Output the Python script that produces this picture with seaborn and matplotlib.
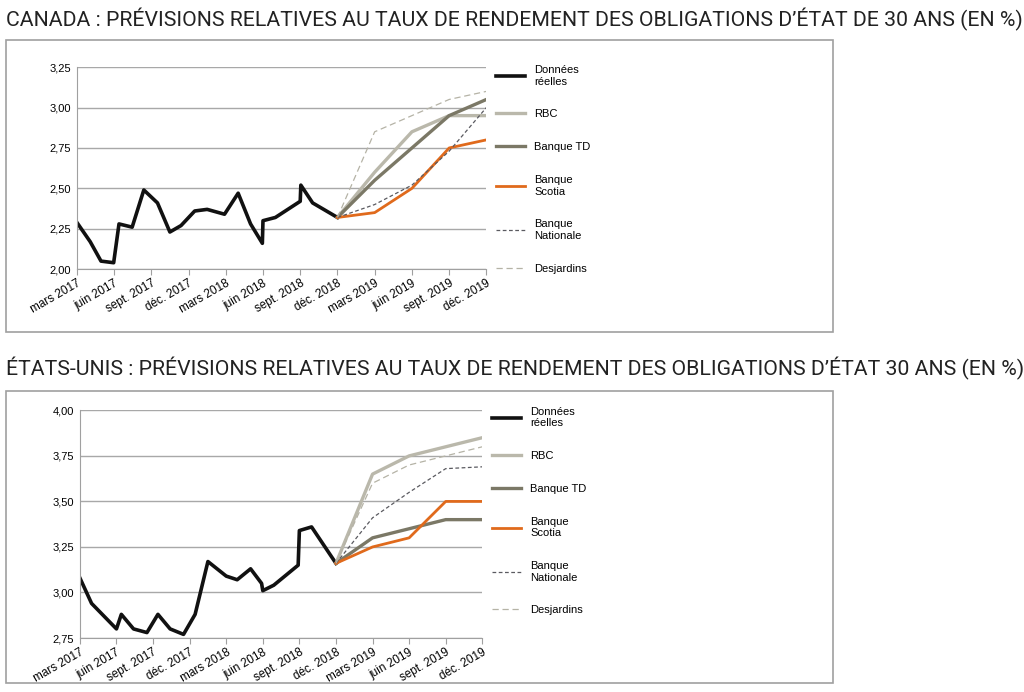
import matplotlib
matplotlib.use("Agg")
import matplotlib.pyplot as plt
import seaborn as sns
import pandas as pd
from matplotlib.patches import Rectangle

tick_pos = list(range(0, 34, 3))
tick_labels = ["mars 2017", "juin 2017", "sept. 2017", "déc. 2017", "mars 2018", "juin 2018",
               "sept. 2018", "déc. 2018", "mars 2019", "juin 2019", "sept. 2019", "déc. 2019"]
fc_months = [21, 24, 27, 30, 33]

ca_hist_m = [0, 1.08, 1.95, 2.97, 3.4, 4.46, 5.4, 6.5, 7.5, 8.4, 9.5, 10.5, 11.9, 13, 14, 14.95, 15, 16, 18, 18.05, 19, 21]
ca_hist_v = [2.29, 2.17, 2.05, 2.04, 2.28, 2.26, 2.49, 2.41, 2.23, 2.27, 2.36, 2.37, 2.34, 2.47, 2.28, 2.16, 2.30, 2.32, 2.42, 2.52, 2.41, 2.32]
ca_rbc = [2.32, 2.60, 2.85, 2.95, 2.95]
ca_td = [2.32, 2.55, 2.75, 2.95, 3.05]
ca_scotia = [2.32, 2.35, 2.50, 2.75, 2.80]
ca_nat = [2.32, 2.40, 2.52, 2.73, 3.00]
ca_desj = [2.32, 2.85, 2.95, 3.05, 3.10]

us_hist_m = [0, 0.96, 3.0, 3.4, 4.4, 5.5, 6.4, 7.4, 8.5, 9.45, 10.5, 12, 12.9, 14, 14.9, 15, 15.9, 17.9, 18, 19, 21]
us_hist_v = [3.08, 2.94, 2.80, 2.88, 2.80, 2.78, 2.88, 2.80, 2.77, 2.88, 3.17, 3.09, 3.07, 3.13, 3.05, 3.01, 3.04, 3.15, 3.34, 3.36, 3.16]
us_rbc = [3.16, 3.65, 3.75, 3.80, 3.85]
us_td = [3.16, 3.30, 3.35, 3.40, 3.40]
us_scotia = [3.16, 3.25, 3.30, 3.50, 3.50]
us_nat = [3.16, 3.41, 3.55, 3.68, 3.69]
us_desj = [3.16, 3.60, 3.70, 3.75, 3.80]

styles = [
    ("Données\nréelles", "#111111", 2.6, "-"),
    ("RBC", "#bab8ab", 2.4, "-"),
    ("Banque TD", "#7b7866", 2.4, "-"),
    ("Banque\nScotia", "#e06a1c", 2.0, "-"),
    ("Banque\nNationale", "#5a5a60", 0.9, (0, (3, 2))),
    ("Desjardins", "#b5b3a6", 0.9, (0, (5, 3))),
]

fig = plt.figure(figsize=(10.24, 6.92), dpi=100)
plt.rcParams["font.family"] = "Liberation Sans"

def draw(ax, hm, hv, fcs, yt, ylab):
    series = [(hm, hv)] + [(fc_months, f) for f in fcs]
    for (m, v), (lab, c, lw, ls) in zip(series, styles):
        df = pd.DataFrame({"m": m, "v": v})
        sns.lineplot(data=df, x="m", y="v", ax=ax, color=c, lw=lw, linestyle=ls,
                     label=lab, sort=False, estimator=None)
    ax.set_xlim(0, 33)
    ax.set_ylim(yt[0], yt[-1])
    ax.set_yticks(yt)
    ax.set_yticklabels(ylab, fontsize=8)
    ax.set_xticks(tick_pos)
    ax.set_xticklabels(tick_labels, rotation=30, ha="right", fontsize=8.5, rotation_mode="anchor")
    ax.set_xlabel(""); ax.set_ylabel("")
    ax.grid(axis="y", color="#a8a8a8", lw=1)
    ax.set_axisbelow(True)
    for s in ["top", "right"]:
        ax.spines[s].set_visible(False)
    for s in ["left", "bottom"]:
        ax.spines[s].set_color("#a0a0a0")
    ax.tick_params(axis="x", length=4, color="#a0a0a0", pad=2)
    ax.tick_params(axis="y", length=0, pad=4)
    ax.legend(loc="upper left", bbox_to_anchor=(1.0, 1.06), frameon=False, fontsize=8,
              handlelength=2.6, labelspacing=2.05, handletextpad=0.8)

ax1 = fig.add_axes([0.075, 0.611, 0.400, 0.292])
draw(ax1, ca_hist_m, ca_hist_v, [ca_rbc, ca_td, ca_scotia, ca_nat, ca_desj],
     [2.00, 2.25, 2.50, 2.75, 3.00, 3.25], ["2,00", "2,25", "2,50", "2,75", "3,00", "3,25"])
ax2 = fig.add_axes([0.078, 0.078, 0.393, 0.329])
draw(ax2, us_hist_m, us_hist_v, [us_rbc, us_td, us_scotia, us_nat, us_desj],
     [2.75, 3.00, 3.25, 3.50, 3.75, 4.00], ["2,75", "3,00", "3,25", "3,50", "3,75", "4,00"])

for b in [0.520, 0.013]:
    fig.patches.append(Rectangle((0.006, b), 0.807, 0.422, transform=fig.transFigure,
                                 fill=False, ec="#a0a0a0", lw=1.2))

fig.text(0.006, 0.972, "CANADA : PRÉVISIONS RELATIVES AU TAUX DE RENDEMENT DES OBLIGATIONS D’ÉTAT DE 30 ANS (EN %)",
         fontsize=15.3, family="Roboto", va="center", color="#222222")
fig.text(0.006, 0.467, "ÉTATS-UNIS : PRÉVISIONS RELATIVES AU TAUX DE RENDEMENT DES OBLIGATIONS D’ÉTAT 30 ANS (EN %)",
         fontsize=15.3, family="Roboto", va="center", color="#222222")

fig.savefig("out.png", dpi=100, facecolor="white")
